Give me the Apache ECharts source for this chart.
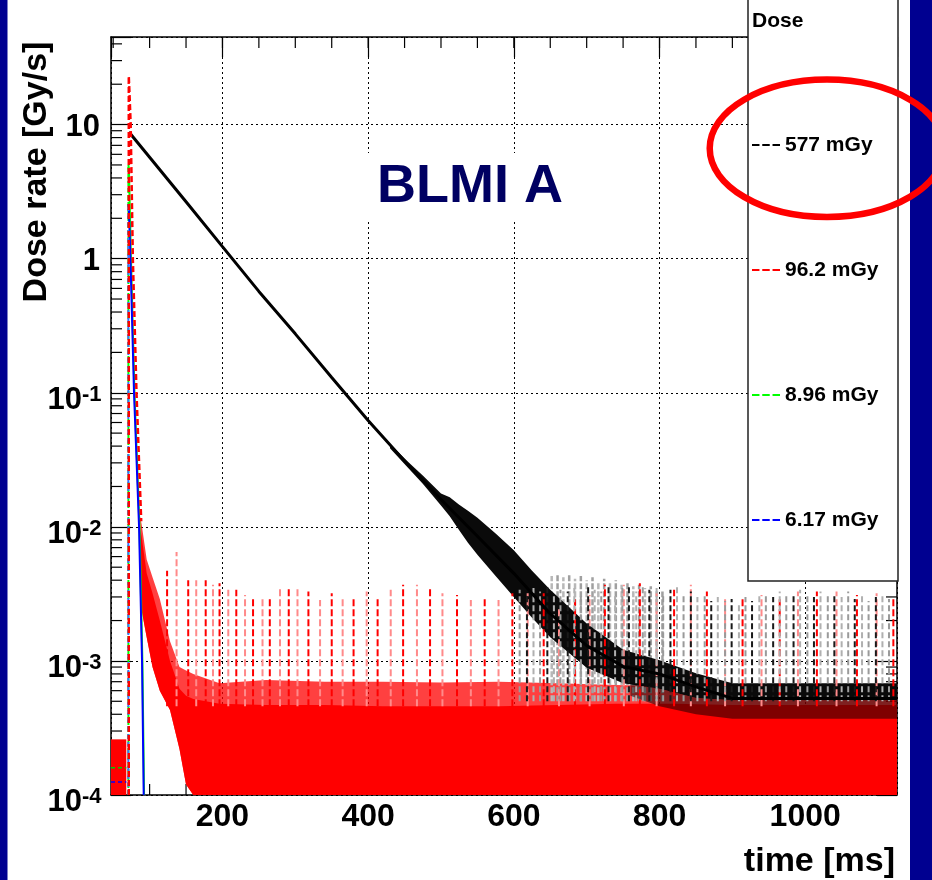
<!DOCTYPE html>
<html><head><meta charset="utf-8">
<script src="https://cdn.jsdelivr.net/npm/echarts@6/dist/echarts.min.js"></script>
<style>html,body{margin:0;padding:0;background:#fff}#c{width:932px;height:880px}</style>
</head><body><div id="c"></div>
<script>
// ---------- axis ticks / labels ----------
const xMinorTicks = [50,100,150,200,250,300,350,400,450,500,550,600,650,700,750,800,850,900,950,1000,1050,1100];
const yMinorTicks = [2e-4,3e-4,4e-4,5e-4,6e-4,7e-4,8e-4,9e-4,
  2e-3,3e-3,4e-3,5e-3,6e-3,7e-3,8e-3,9e-3,
  0.02,0.03,0.04,0.05,0.06,0.07,0.08,0.09,
  0.2,0.3,0.4,0.5,0.6,0.7,0.8,0.9,
  2,3,4,5,6,7,8,9,20,30,40];
const yDecades = [1e-4,1e-3,1e-2,1e-1,1,10];
const yLabelBase = ['10','10','10','10','1','10'];
const yLabelExp  = ['-4','-3','-2','-1','',''];
const legendNames = ['577 mGy','96.2 mGy','8.96 mGy','6.17 mGy'];

// ---------- 577 mGy (black) ----------
const blackT = [71.6,100,150,200,250,300,350,400,450,500,550,600,650,700,750,800,850,900,1000,1126];
const blackV = [8.8,5.7,2.66,1.23,0.57,0.275,0.13,0.062,0.031,0.016,0.0085,0.0045,0.00225,0.0013,0.00091,0.0008,0.00064,0.000525,0.000525,0.000525];
const bandT  = [430,455,475,500,512,525,537,550,575,600,625,650,700,750,800,850,900,1000,1126];
const bandHi = [0.0414,0.0305,0.0241,0.0177,0.0166,0.0146,0.0132,0.0117,0.0089,0.0067,0.0047,0.0034,0.0019,0.00121,0.00101,0.00081,0.00068,0.00068,0.00068];
const bandLo = [0.0386,0.0275,0.021,0.0144,0.012,0.00944,0.0076,0.0062,0.0043,0.0030,0.0021,0.0015,0.00089,0.00068,0.00062,0.00053,0.00051,0.00051,0.00051];
const mixT  = [760,800,850,900,1000,1126];
const mixHi = [0.00068,0.00062,0.00053,0.00051,0.00051,0.00051];
const mixLo = [0.00055,0.00046,0.0004,0.00037,0.00037,0.00037];
const blackSpikeT = [608,618,627,636,646,655,664,674,683,692,702,711,720,730,739,749,758,768,777,786,796,805,815,824,833,843,852,862,871,880,890,899,909,918,927,937,946,956,965,974,984,993,1003,1012,1021,1031,1040,1050,1059,1068,1078,1087,1097,1106,1115];
const blackSpikeV = [3.4e-3,3.2e-3,3.5e-3,3.3e-3,3.6e-3,3.1e-3,3.4e-3,3.3e-3,3.5e-3,3.2e-3,3.6e-3,3.4e-3,3.3e-3,3.7e-3,3.2e-3,3.5e-3,3.6e-3,3.3e-3,3.7e-3,3.4e-3,3.5e-3,3.2e-3,3.4e-3,3.6e-3,3.1e-3,3.3e-3,3.0e-3,3.2e-3,2.8e-3,3.0e-3,2.8e-3,2.9e-3,2.7e-3,3.0e-3,2.8e-3,3.1e-3,3.2e-3,3.0e-3,3.3e-3,3.2e-3,3.1e-3,3.4e-3,3.2e-3,3.0e-3,3.3e-3,3.1e-3,3.2e-3,3.0e-3,3.3e-3,2.9e-3,3.1e-3,2.8e-3,3.0e-3,3.2e-3,2.9e-3];
const haloSpikeT = [652,660,668,676,684,692,700,708,716,724,732,740,748,756,764,772,780,788,796,804];
const haloSpikeV = [4.3e-3,4.5e-3,4.2e-3,4.4e-3,4.1e-3,4.3e-3,4.0e-3,4.2e-3,3.9e-3,4.1e-3,3.8e-3,4.0e-3,3.7e-3,3.9e-3,3.6e-3,3.7e-3,3.5e-3,3.6e-3,3.4e-3,3.3e-3];
const blackSpikeBase = 5e-4;

// ---------- 96.2 mGy (red) ----------
const redT = [71.4,71.4,72.6,74,77,82,88.5];
const redV = [1e-4,23,16,10,1,0.1,0.011];
const redEnvT    = [87,89,96,104,114,128,141,150,160,196,260,340,420,500,580,660,740,820,900,980,1060,1126];
const redLightHi = [0.012,0.0105,0.0057,0.0042,0.0029,0.0014,0.0009,0.00085,0.0008,0.00068,0.00072,0.0007,0.0007,0.00069,0.0007,0.00068,0.00066,0.00065,0.00064,0.00064,0.00063,0.00063];
const redDenseHi = [0.0095,0.0085,0.0045,0.0032,0.002,0.001,0.00062,0.00055,0.00052,0.00048,0.00047,0.00047,0.00046,0.00046,0.00046,0.00047,0.00048,0.00048,0.00047,0.00047,0.00047,0.00047];
const redFloorLo = [0.008,0.0024,0.0015,0.0009,0.0006,0.00043,0.00022,0.00012,0.0001,0.0001,0.0001,0.0001,0.0001,0.0001,0.0001,0.0001,0.0001,0.0001,0.0001,0.0001,0.0001,0.0001];
const redSpikeT = [124,137,153,164,177,187,196,208,219,231,242,255,265,279,291,303,318,334,350,365,380,398,413,431,448,467,485,502,522,541,560,579,598,619,641,662,684,704,725,751,773,796,820,843,865,890,914,940,965,990,1016,1043,1071,1098,1121];
const redSpikeV = [4.7e-3,6.5e-3,4.0e-3,4.0e-3,4.0e-3,3.7e-3,3.8e-3,3.4e-3,3.4e-3,3.1e-3,3.0e-3,3.0e-3,3.0e-3,3.5e-3,3.5e-3,3.6e-3,3.3e-3,2.85e-3,3.2e-3,2.95e-3,2.95e-3,3.3e-3,3.0e-3,3.4e-3,3.7e-3,3.7e-3,3.5e-3,3.2e-3,3.1e-3,2.85e-3,2.95e-3,2.85e-3,3.2e-3,3.2e-3,3.2e-3,2.5e-3,2.95e-3,3.1e-3,3.7e-3,3.7e-3,3.8e-3,3.2e-3,3.4e-3,3.7e-3,3.3e-3,2.95e-3,2.95e-3,3.1e-3,3.0e-3,3.3e-3,3.3e-3,3.3e-3,3.1e-3,3.2e-3,3.0e-3];
const redSpikeBase = 4.6e-4;
const preT = [47,68];
const preRedHi = [2.6e-4,2.6e-4];
const preRedLo = [1e-4,1e-4];
const preGreenV = [1.6e-4,1.6e-4];
const preBlueV = [1.25e-4,1.25e-4];

// ---------- 8.96 mGy (green) / 6.17 mGy (blue) ----------
const greenEdgeT = [70.9,70.9];
const greenEdgeV = [1e-4,5.0];
const greenT = [70.9,71.6,74.2,79.2,86.1,90.1,92.4];
const greenV = [5.0,4.6,1.1,0.1,0.01,0.001,1e-4];
const blueEdgeT = [70.8,70.8];
const blueEdgeV = [1e-4,2.55];
const blueT = [70.8,71.5,73.7,78.6,85.5,89.6,91.9];
const blueV = [2.55,2.4,1.0,0.1,0.01,0.001,1e-4];

// ---------------------------------------------------------
const FONT = "'Liberation Sans', Arial, Helvetica, sans-serif";
const XMIN = 47, XMAX = 1126, YMIN = 1e-4, YMAX = 45;
const zip = (a, b) => a.map((v, i) => [v, b[i]]);

function polySeries(name, t, hi, lo, fill) {
  return {
    type: 'custom', name, coordinateSystem: 'cartesian2d', silent: true,
    encode: { x: 0, y: [1, 2] },
    data: t.map((v, i) => [v, hi[i], lo[i]]),
    renderItem: (params, api) => {
      if (params.dataIndexInside !== 0) return null;
      const n = params.dataInsideLength, up = [], dn = [];
      for (let i = 0; i < n; i++) {
        const x = api.value(0, i);
        up.push(api.coord([x, api.value(1, i)]));
        dn.push(api.coord([x, api.value(2, i)]));
      }
      return { type: 'polygon', shape: { points: up.concat(dn.reverse()) }, style: { fill: fill } };
    }
  };
}
function spikeSeries(name, t, v, base, colors, dash, width) {
  return {
    type: 'custom', name, coordinateSystem: 'cartesian2d', silent: true,
    encode: { x: 0, y: 1 },
    data: zip(t, v),
    renderItem: (params, api) => {
      const a = api.coord([api.value(0), base]);
      const b = api.coord([api.value(0), api.value(1)]);
      return { type: 'line', shape: { x1: a[0], y1: a[1], x2: b[0], y2: b[1] },
        style: { stroke: colors[params.dataIndex % colors.length], lineWidth: width, lineDash: dash } };
    }
  };
}
function tickSeries(name, data, dx, dy) {
  return {
    type: 'custom', name, coordinateSystem: 'cartesian2d', silent: true,
    encode: { x: 0, y: 1 }, data: data,
    renderItem: (params, api) => {
      const p = api.coord([api.value(0), api.value(1)]);
      return { type: 'line', shape: { x1: p[0], y1: p[1], x2: p[0] + dx, y2: p[1] + dy },
        style: { stroke: '#000', lineWidth: 1.2 } };
    }
  };
}
// y tick labels "10" with superscript exponent, placed through the y scale
const yLabelSeries = {
  type: 'custom', name: 'yLabels', coordinateSystem: 'cartesian2d', silent: true, clip: false,
  encode: { x: 0, y: 1 },
  data: yDecades.map(v => [XMIN, v]),
  renderItem: (params, api) => {
    const i = params.dataIndex;
    const p = api.coord([api.value(0), api.value(1)]);
    const exp = yLabelExp[i];
    if (!exp) {
      return { type: 'text', x: p[0] - 11, y: p[1] + 2.5,
        style: { text: yLabelBase[i], font: 'bold 31px ' + FONT, fill: '#000', align: 'right', verticalAlign: 'middle' } };
    }
    return { type: 'group', children: [
      { type: 'text', x: p[0] - 29, y: p[1] + 7.8,
        style: { text: yLabelBase[i], font: 'bold 31px ' + FONT, fill: '#000', align: 'right', verticalAlign: 'middle' } },
      { type: 'text', x: p[0] - 29, y: p[1] + 1.8,
        style: { text: exp, font: 'bold 22px ' + FONT, fill: '#000', align: 'left', verticalAlign: 'middle' } }
    ] };
  }
};
function lineSeries(name, t, v, color, width, dash) {
  return { type: 'line', name, data: zip(t, v), showSymbol: false, symbol: 'none', silent: true,
    color: color, itemStyle: { color: color },
    lineStyle: { color: color, width: width, type: dash || 'solid' } };
}

const tickStyle = { color: '#000', width: 1.2 };
const frameLine = { show: true, onZero: false, lineStyle: { color: '#000', width: 1.5 } };

const option = {
  animation: false,
  backgroundColor: '#fff',
  grid: { left: 111, top: 37, width: 786, height: 758, containLabel: false },
  legend: {
    data: legendNames, orient: 'vertical', left: 752, top: 132.5, padding: 0,
    itemWidth: 28, itemHeight: 2, itemGap: 100, selectedMode: false, z: 100,
    icon: 'path://M0 0H8V2H0Z M11 0H19V2H11Z M22 0H30V2H22Z',
    itemStyle: { borderWidth: 0 },
    textStyle: { fontSize: 21, fontWeight: 'bold', color: '#000', lineHeight: 25, fontFamily: FONT }
  },
  xAxis: [
    { type: 'value', min: XMIN, max: XMAX, position: 'bottom', axisLine: frameLine,
      axisTick: { show: true, inside: true, length: 20, lineStyle: tickStyle },
      axisLabel: { formatter: (v) => (v % 200 === 0 ? String(v) : ''), showMinLabel: false, showMaxLabel: false,
        fontSize: 32, fontWeight: 'bold', color: '#000', fontFamily: FONT, margin: 6 },
      splitLine: { show: true, lineStyle: { color: '#000', type: [2, 3], width: 1 } } },
    { type: 'value', min: XMIN, max: XMAX, position: 'top', axisLine: frameLine,
      axisLabel: { show: false }, splitLine: { show: false },
      axisTick: { show: true, inside: true, length: 20, lineStyle: tickStyle } }
  ],
  yAxis: [
    { type: 'log', logBase: 10, min: YMIN, max: YMAX, position: 'left', axisLine: frameLine,
      axisTick: { show: true, inside: true, length: 20, lineStyle: tickStyle },
      axisLabel: { show: false },
      splitLine: { show: true, lineStyle: { color: '#000', type: [2, 3], width: 1 } } },
    { type: 'log', logBase: 10, min: YMIN, max: YMAX, position: 'right', axisLine: frameLine,
      axisLabel: { show: false }, splitLine: { show: false },
      axisTick: { show: true, inside: true, length: 20, lineStyle: tickStyle } }
  ],
  series: [
    tickSeries('yMinorLeft', yMinorTicks.map(v => [XMIN, v]), 11, 0),
    tickSeries('yMinorRight', yMinorTicks.map(v => [XMAX, v]), -11, 0),
    tickSeries('xMinorBottom', xMinorTicks.map(t => [t, YMIN]), 0, -11),
    tickSeries('xMinorTop', xMinorTicks.map(t => [t, YMAX]), 0, 11),
    yLabelSeries,
    polySeries('redLight', redEnvT, redLightHi, redFloorLo, 'rgba(255,0,0,0.75)'),
    polySeries('redDense', redEnvT, redDenseHi, redFloorLo, '#ff0000'),
    polySeries('preRed', preT, preRedHi, preRedLo, '#ff0000'),
    lineSeries('preGreen', preT, preGreenV, '#00cc00', 1.5, [4, 3]),
    lineSeries('preBlue', preT, preBlueV, '#0000ff', 1.5, [4, 3]),
    lineSeries('577 mGy', blackT, blackV, '#000000', 3),
    spikeSeries('haloSpikes', haloSpikeT, haloSpikeV, blackSpikeBase, ['#b8b8b8', '#a0a0a0'], [6, 2], 2.5),
    polySeries('blackBand', bandT, bandHi, bandLo, '#0a0a0a'),
    polySeries('blackMix', mixT, mixHi, mixLo, 'rgba(0,0,0,0.5)'),
    spikeSeries('redSpikes', redSpikeT, redSpikeV, redSpikeBase, ['#ff0000', '#ff8a8a'], [7, 3], 2),
    spikeSeries('blackSpikes', blackSpikeT, blackSpikeV, blackSpikeBase, ['#9a9a9a', '#1a1a1a', '#b0b0b0'], [6, 3], 2),
    lineSeries('8.96 mGy', greenT, greenV, '#00ff00', 2),
    lineSeries('8.96 mGy', greenEdgeT, greenEdgeV, '#00ff00', 2, [5, 2]),
    lineSeries('6.17 mGy', blueT, blueV, '#0000ff', 2),
    lineSeries('6.17 mGy', blueEdgeT, blueEdgeV, '#3a6fff', 2, [5, 3]),
    lineSeries('96.2 mGy', redT, redV, '#ff0000', 2.5, [6, 3])
  ],
  graphic: [
    { type: 'rect', shape: { x: 366, y: 153, width: 216, height: 67 }, style: { fill: '#fff' }, z: 50 },
    { type: 'text', x: 377, y: 187, z: 70,
      style: { text: 'BLMI A', font: 'bold 54px ' + FONT, fill: '#000062', align: 'left', verticalAlign: 'middle' } },
    { type: 'rect', shape: { x: 748, y: -3, width: 150, height: 584 }, style: { fill: '#fff', stroke: '#222', lineWidth: 1.5 }, z: 60 },
    { type: 'text', x: 752, y: 21, z: 70,
      style: { text: 'Dose', font: 'bold 21px ' + FONT, fill: '#000', align: 'left', verticalAlign: 'middle' } },
    { type: 'text', x: 37, y: 172, rotation: Math.PI / 2, z: 70,
      style: { text: 'Dose rate [Gy/s]', font: 'bold 34px ' + FONT, fill: '#000', align: 'center', verticalAlign: 'middle' } },
    { type: 'text', x: 895, y: 862, z: 70,
      style: { text: 'time [ms]', font: 'bold 34px ' + FONT, fill: '#000', align: 'right', verticalAlign: 'middle' } },
    { type: 'rect', shape: { x: 0, y: 0, width: 7.5, height: 880 }, style: { fill: '#000090' }, z: 200 },
    { type: 'rect', shape: { x: 910, y: 0, width: 22, height: 880 }, style: { fill: '#000090' }, z: 200 },
    { type: 'ellipse', shape: { cx: 827, cy: 148.3, rx: 117.3, ry: 68.7 }, style: { fill: null, stroke: '#ff0000', lineWidth: 6.5 }, z: 300 }
  ]
};
const chart = echarts.init(document.getElementById('c'), null, { renderer: 'canvas' });
chart.setOption(option);
</script></body></html>
